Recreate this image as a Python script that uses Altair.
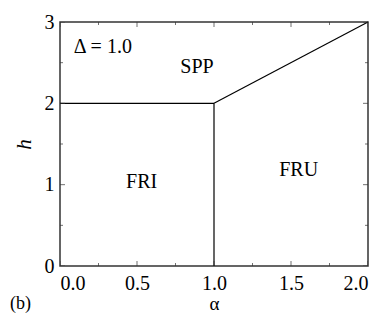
import altair as alt
import pandas as pd

# Axis ticks
x_major = [0.0, 0.5, 1.0, 1.5, 2.0]
x_minor = [0.25, 0.75, 1.25, 1.75]
y_major = [0, 1, 2, 3]
y_minor = [0.5, 1.5, 2.5]

# Phase boundaries
seg_x1 = [0.0, 1.0, 1.0]
seg_y1 = [2.0, 0.0, 2.0]
seg_x2 = [1.0, 1.0, 2.0]
seg_y2 = [2.0, 2.0, 3.0]

# Region labels (data coordinates)
lab_text = ["SPP", "FRI", "FRU"]
lab_x = [0.89, 0.53, 1.55]
lab_y = [2.37, 0.96, 1.11]

note_text = ["Δ = 1.0"]
note_x = [0.09]
note_y = [2.62]

panel_text = ["(b)"]
panel_x = [-0.325]
panel_y = [-0.584]

FONT = "Liberation Serif"
W, H = 308, 244

xs = alt.Scale(domain=[0, 2], nice=False, zero=False)
ys = alt.Scale(domain=[0, 3], nice=False, zero=False)

segs = pd.DataFrame({"x": seg_x1, "y": seg_y1, "x2": seg_x2, "y2": seg_y2})
labs = pd.DataFrame({"t": lab_text, "x": lab_x, "y": lab_y})
notes = pd.DataFrame({"t": note_text, "x": note_x, "y": note_y})
panel = pd.DataFrame({"t": panel_text, "x": panel_x, "y": panel_y})

xaxis = alt.Axis(values=x_major, format=".1f", ticks=False, domain=False, grid=False,
                 labelFont=FONT, labelFontSize=20, labelColor="black", labelPadding=7,
                 title="α", titleFont=FONT, titleFontSize=19, titleFontWeight="normal",
                 titleColor="black", titlePadding=1)
yaxis = alt.Axis(values=y_major, format="d", ticks=False, domain=False, grid=False,
                 labelFont=FONT, labelFontSize=20, labelColor="black", labelPadding=6,
                 title="h", titleFont=FONT, titleFontSize=21, titleFontWeight="normal",
                 titleFontStyle="italic", titleColor="black", titlePadding=10)

lines = alt.Chart(segs).mark_rule(color="black", strokeWidth=1.2).encode(
    x=alt.X("x:Q", scale=xs, axis=xaxis),
    y=alt.Y("y:Q", scale=ys, axis=yaxis),
    x2="x2:Q", y2="y2:Q",
)

def xticks(vals, size):
    df = pd.DataFrame({"v": vals})
    layers = []
    for d in (0, 3):
        layers.append(alt.Chart(df).mark_tick(orient="vertical", clip=True, size=size,
                                              thickness=1, color="#333").encode(
            x=alt.X("v:Q", scale=xs), y=alt.datum(d)))
    return layers

def yticks(vals, size):
    df = pd.DataFrame({"v": vals})
    layers = []
    for d in (0, 2):
        layers.append(alt.Chart(df).mark_tick(orient="horizontal", clip=True, size=size,
                                              thickness=1, color="#333").encode(
            y=alt.Y("v:Q", scale=ys), x=alt.datum(d)))
    return layers

ticks = xticks(x_major, 10) + xticks(x_minor, 6) + yticks(y_major, 10) + yticks(y_minor, 6)

labels = alt.Chart(labs).mark_text(font=FONT, fontSize=20, align="center",
                                   baseline="alphabetic", color="black").encode(
    x=alt.X("x:Q", scale=xs), y=alt.Y("y:Q", scale=ys), text="t:N")

note = alt.Chart(notes).mark_text(font=FONT, fontSize=20, align="left",
                                  baseline="alphabetic", color="black").encode(
    x=alt.X("x:Q", scale=xs), y=alt.Y("y:Q", scale=ys), text="t:N")

ptext = alt.Chart(panel).mark_text(font=FONT, fontSize=18, align="left",
                                   baseline="bottom", color="black", clip=False).encode(
    x=alt.X("x:Q", scale=xs), y=alt.Y("y:Q", scale=ys), text="t:N")

chart = alt.layer(lines, *ticks, labels, note, ptext).properties(
    width=W, height=H,
    autosize=alt.AutoSizeParams(type="none"),
    padding={"left": 52, "top": 14, "right": 12, "bottom": 48},
).configure_view(stroke="#333", strokeWidth=1.5)

chart.save("out.html", embed_options={"renderer": "svg", "actions": False})
